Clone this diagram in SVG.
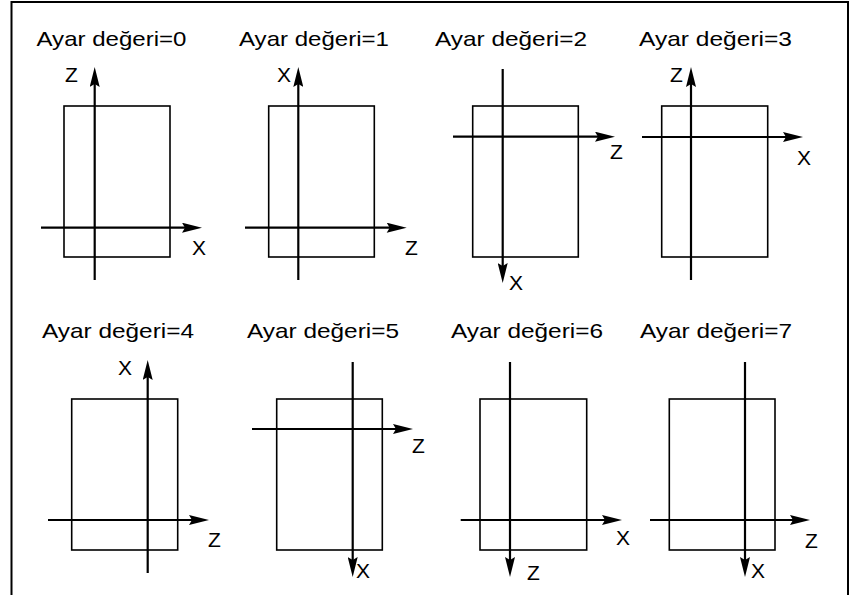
<svg xmlns="http://www.w3.org/2000/svg" width="852" height="595" viewBox="0 0 852 595">
<style>
.frame{stroke:#000;stroke-width:2;fill:none}
.box{stroke:#000;stroke-width:1.6;fill:none}
.ax{stroke:#000;stroke-width:2.2;fill:none;marker-end:url(#ah)}
.t{font-family:"Liberation Sans",Arial,sans-serif;font-size:21px;fill:#000}
.l{font-family:"Liberation Sans",Arial,sans-serif;font-size:21px;fill:#000}
</style>
<defs>
<marker id="ah" viewBox="0 0 20 10" markerWidth="21" markerHeight="10" markerUnits="userSpaceOnUse" refX="10" refY="5" orient="auto">
<path d="M0,0 L20,5 L0,10 L3,5 Z" fill="#000"/>
</marker>
</defs>
<rect width="852" height="595" fill="#fff"/>
<g id="frame">
<path class="frame" d="M11.5,595 V2 H848 V595"/>
</g>
<g id="panel0">
<text class="t" x="36.5" y="46" textLength="150" lengthAdjust="spacingAndGlyphs">Ayar değeri=0</text>
<rect class="box" x="64" y="106" width="106" height="151"/>
<text class="l" x="65" y="82">Z</text>
<text class="l" x="192" y="255">X</text>
</g>
<g id="panel1">
<text class="t" x="239" y="46" textLength="150" lengthAdjust="spacingAndGlyphs">Ayar değeri=1</text>
<rect class="box" x="268.7" y="106" width="105.6" height="151"/>
<text class="l" x="277" y="82">X</text>
<text class="l" x="405" y="255">Z</text>
</g>
<g id="panel2">
<text class="t" x="435" y="46" textLength="152" lengthAdjust="spacingAndGlyphs">Ayar değeri=2</text>
<rect class="box" x="472.7" y="106" width="105.6" height="151"/>
<text class="l" x="610" y="159">Z</text>
<text class="l" x="509" y="290">X</text>
</g>
<g id="panel3">
<text class="t" x="639" y="46" textLength="153" lengthAdjust="spacingAndGlyphs">Ayar değeri=3</text>
<rect class="box" x="661.7" y="106" width="106" height="151"/>
<text class="l" x="670" y="82">Z</text>
<text class="l" x="797" y="165">X</text>
</g>
<g id="panel4">
<text class="t" x="42" y="338" textLength="152" lengthAdjust="spacingAndGlyphs">Ayar değeri=4</text>
<rect class="box" x="71.7" y="399" width="106" height="151"/>
<text class="l" x="118" y="375">X</text>
<text class="l" x="208" y="547">Z</text>
</g>
<g id="panel5">
<text class="t" x="247" y="338" textLength="152" lengthAdjust="spacingAndGlyphs">Ayar değeri=5</text>
<rect class="box" x="276.7" y="399" width="105.6" height="151"/>
<text class="l" x="412" y="453">Z</text>
<text class="l" x="356" y="578">X</text>
</g>
<g id="panel6">
<text class="t" x="451" y="338" textLength="152" lengthAdjust="spacingAndGlyphs">Ayar değeri=6</text>
<rect class="box" x="480" y="399" width="106.7" height="151"/>
<text class="l" x="616" y="545">X</text>
<text class="l" x="527" y="580">Z</text>
</g>
<g id="panel7">
<text class="t" x="640" y="338" textLength="152" lengthAdjust="spacingAndGlyphs">Ayar değeri=7</text>
<rect class="box" x="669.3" y="399" width="105.7" height="151"/>
<text class="l" x="805" y="548">Z</text>
<text class="l" x="751" y="578">X</text>
</g>
<g id="connectors">
<line class="ax" x1="94.7" y1="280" x2="94.7" y2="77"/>
<line class="ax" x1="41" y1="227.7" x2="192" y2="227.7"/>
<line class="ax" x1="298.3" y1="280" x2="298.3" y2="77"/>
<line class="ax" x1="245" y1="227.7" x2="396.7" y2="227.7"/>
<line class="ax" x1="502.7" y1="69" x2="502.7" y2="273"/>
<line class="ax" x1="453" y1="136.7" x2="605" y2="136.7"/>
<line class="ax" x1="691" y1="280" x2="691" y2="77"/>
<line class="ax" x1="642" y1="137" x2="793" y2="137"/>
<line class="ax" x1="147.7" y1="573" x2="147.7" y2="370"/>
<line class="ax" x1="48" y1="520" x2="199" y2="520"/>
<line class="ax" x1="352.7" y1="362" x2="352.7" y2="567"/>
<line class="ax" x1="252" y1="429" x2="403" y2="429"/>
<line class="ax" x1="510" y1="362" x2="510" y2="567"/>
<line class="ax" x1="460.7" y1="520" x2="612" y2="520"/>
<line class="ax" x1="745" y1="362" x2="745" y2="567"/>
<line class="ax" x1="650" y1="520" x2="800" y2="520"/>
</g>
</svg>
